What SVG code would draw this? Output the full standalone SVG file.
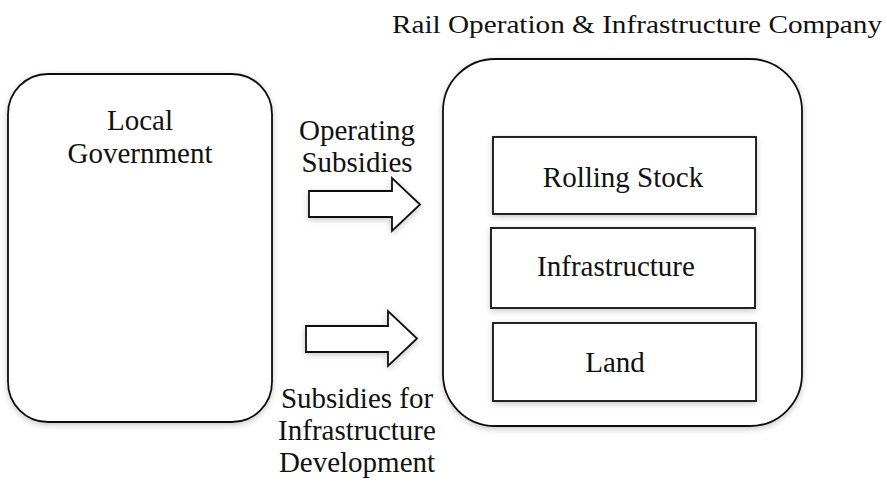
<svg xmlns="http://www.w3.org/2000/svg" width="887" height="484" viewBox="0 0 887 484">
<defs>
<filter id="sh" x="-10%" y="-10%" width="120%" height="120%">
<feDropShadow dx="0" dy="2" stdDeviation="3" flood-color="#000" flood-opacity="0.22"/>
</filter>
<style>
.box{fill:#fff;stroke:#111;stroke-width:1.8;filter:url(#sh)}
.arr{fill:#fff;stroke:#111;stroke-width:1.8;stroke-linejoin:miter;filter:url(#sh)}
.t{font-family:"Liberation Serif","Times New Roman",serif;font-size:29px;fill:#111;text-anchor:middle}
</style>
</defs>
<rect width="887" height="484" fill="#fff"/>
<text x="392" y="33" class="t" style="text-anchor:start;font-size:25px" textLength="490" lengthAdjust="spacingAndGlyphs">Rail Operation &amp; Infrastructure Company</text>
<g id="local-government">
<rect class="box" x="8" y="74" width="264" height="348" rx="40" ry="40"/>
<text class="t" x="140" y="130">Local</text>
<text class="t" x="140" y="163">Government</text>
</g>
<g id="company">
<rect class="box" x="443" y="59" width="359" height="367" rx="52" ry="52"/>
</g>
<g id="rolling-stock">
<rect class="box" x="493" y="137" width="263" height="77"/>
<text class="t" x="623" y="187">Rolling Stock</text>
</g>
<g id="infrastructure">
<rect class="box" x="491" y="228" width="264" height="80"/>
<text class="t" x="616" y="276">Infrastructure</text>
</g>
<g id="land">
<rect class="box" x="493" y="323" width="263" height="78"/>
<text class="t" x="615" y="372">Land</text>
</g>
<g id="connectors">
<polygon class="arr" points="309,191 392,191 392,178 420,204.5 392,231 392,217 309,217"/>
<polygon class="arr" points="306,326 388,326 388,311 417,338.5 388,366 388,352 306,352"/>
<text class="t" x="357" y="140">Operating</text>
<text class="t" x="357" y="172">Subsidies</text>
<text class="t" x="357" y="408">Subsidies for</text>
<text class="t" x="357" y="440">Infrastructure</text>
<text class="t" x="357" y="472">Development</text>
</g>
</svg>
